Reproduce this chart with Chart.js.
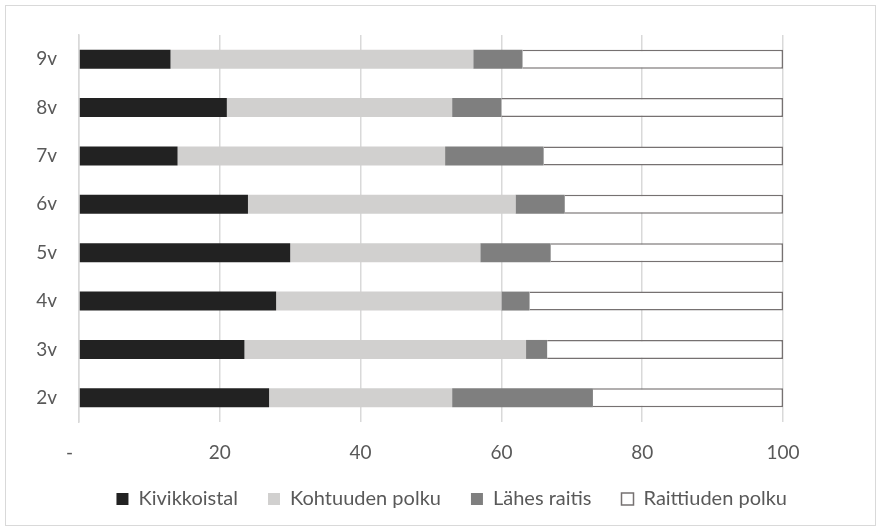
<!DOCTYPE html>
<html>
<head>
<meta charset="utf-8">
<script src="https://cdn.jsdelivr.net/npm/chart.js@4/dist/chart.umd.min.js"></script>
<style>
  html, body { margin: 0; padding: 0; background: #fff; }
  #wrap { position: relative; width: 881px; height: 531px; }
  #frame { position: absolute; left: 5px; top: 5px; width: 869px; height: 519px; border: 1px solid #d9d9d9; pointer-events: none; }
  canvas { position: absolute; left: 0; top: 0; }
</style>
</head>
<body>
<div id="wrap">
  <canvas id="chart" width="881" height="531"></canvas>
  <div id="frame"></div>
</div>
<script>
// ryhmät alhaalta ylös
const categories = ['2v', '3v', '4v', '5v', '6v', '7v', '8v', '9v'];

const kivikkoistal = [27, 23.5, 28, 30, 24, 14, 21, 13];
const kohtuudenPolku = [26, 40, 32, 27, 38, 38, 32, 43];
const lahesRaitis = [20, 3, 4, 10, 7, 14, 7, 7];
const raittiudenPolku = [27, 33.5, 36, 33, 31, 34, 40, 37];

const xTicks = [0, 20, 40, 60, 80, 100];

const textColor = '#595959';
const gridColor = '#d9d9d9';
const tickFont = { family: 'Lato', size: 19 };
const legendFont = { family: 'Lato', size: 20 };

const ctx = document.getElementById('chart').getContext('2d');
new Chart(ctx, {
  type: 'bar',
  data: {
    labels: categories,
    datasets: [
      { label: 'Kivikkoistal', data: kivikkoistal, backgroundColor: '#222222', borderWidth: 0 },
      { label: 'Kohtuuden polku', data: kohtuudenPolku, backgroundColor: '#d1d0cf', borderWidth: 0 },
      { label: 'Lähes raitis', data: lahesRaitis, backgroundColor: '#7f7f7f', borderWidth: 0 },
      { label: 'Raittiuden polku', data: raittiudenPolku, backgroundColor: '#ffffff', borderColor: '#767171', borderWidth: 1.5 }
    ]
  },
  options: {
    indexAxis: 'y',
    responsive: false,
    animation: false,
    categoryPercentage: 0.8,
    barPercentage: 0.49,
    layout: { padding: { left: 0, right: 64, top: 35, bottom: 12 } },
    plugins: {
      tooltip: { enabled: false },
      legend: {
        position: 'bottom',
        align: 'end',
        labels: {
          color: textColor,
          font: legendFont,
          boxWidth: 12,
          boxHeight: 12,
          padding: 30
        }
      }
    },
    scales: {
      x: {
        stacked: true,
        min: 0,
        max: 100,
        afterBuildTicks: function (scale) {
          scale.ticks = xTicks.map(v => ({ value: v }));
        },
        afterFit: function (scale) { scale.height = 37; },
        grid: { color: gridColor, lineWidth: 1.5, drawTicks: false },
        border: { display: false },
        ticks: {
          color: textColor,
          font: tickFont,
          padding: 19,
          maxRotation: 0,
          callback: function (v) { return v === 0 ? '- \u2003' : v; }
        }
      },
      y: {
        stacked: true,
        reverse: true,
        afterFit: function (scale) { scale.width = 79; },
        grid: { display: false, drawTicks: false },
        border: { display: true, color: gridColor, width: 1.5 },
        ticks: { color: textColor, font: tickFont, padding: 22 }
      },
      // tyhjä oikea akseli pitää piirtoalueen leveyden
      yRight: {
        position: 'right',
        afterFit: function (scale) { scale.width = 34; },
        grid: { display: false, drawTicks: false },
        border: { display: false },
        ticks: { display: false }
      }
    }
  }
});
</script>
</body>
</html>
